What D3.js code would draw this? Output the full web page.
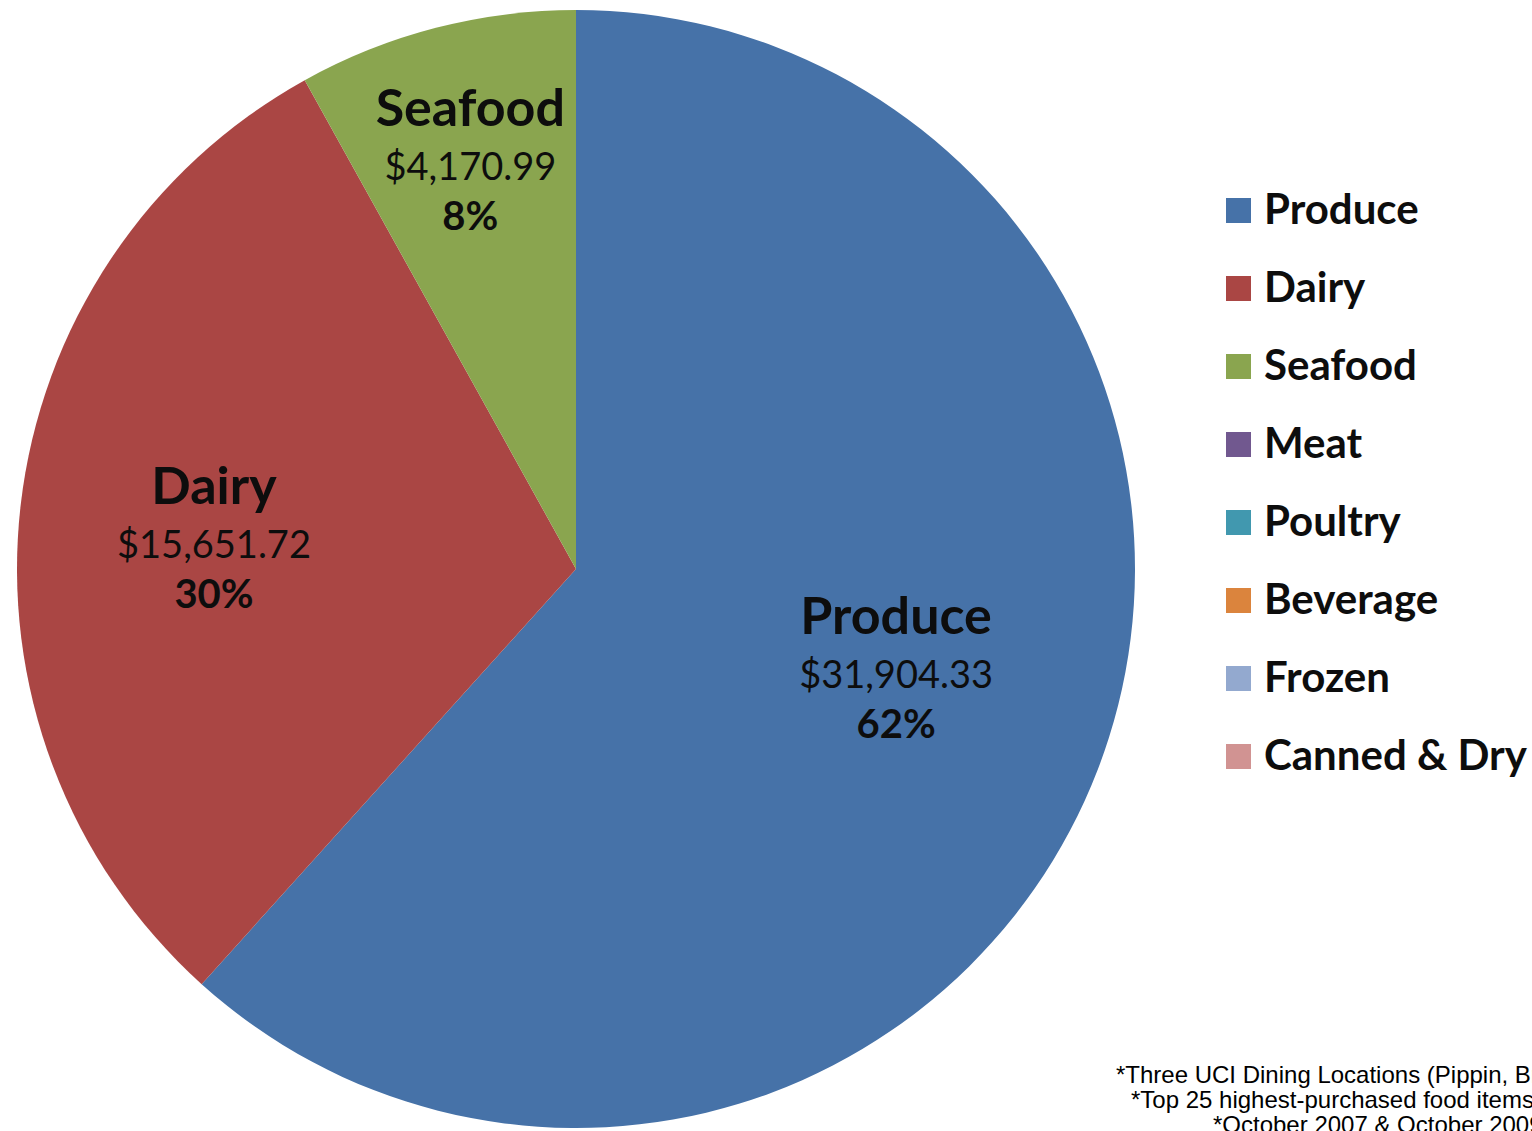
<!DOCTYPE html>
<html>
<head>
<meta charset="utf-8">
<script src="https://cdn.jsdelivr.net/npm/d3@7"></script>
<style>
  body { margin: 0; background: #fff; }
  svg { display: block; }
</style>
</head>
<body>
<div id="chart"></div>
<script>
// chart data
var categories = ["Produce", "Dairy", "Seafood", "Meat", "Poultry", "Beverage", "Frozen", "Canned & Dry"];
var spending = [31904.33, 15651.72, 4170.99, 0, 0, 0, 0, 0];
var colors = ["#4672a8", "#aa4644", "#8aa54f", "#71588f", "#4198af", "#db843d", "#93a9cf", "#d19392"];
var footnotes = [
  "*Three UCI Dining Locations (Pippin, Br",
  "*Top 25 highest-purchased food items",
  "*October 2007 & October 2009"
];

var svgWidth = 1532;
var svgHeight = 1131;
var radius = 559;
var cx = 576, cy = 569;

// label placement: distance from centre (fraction of radius) + small nudge, like excel "best fit"
var labelRadius = [0.6, 0.65, 0.74];
var labelNudge = [[7, -22], [-1, 9], [-2, -10]];

var svg = d3.select("#chart")
  .append("svg")
  .attr("width", svgWidth)
  .attr("height", svgHeight);

var rows = categories.map(function(c, i) {
  return { name: c, value: spending[i], color: colors[i] };
});
var total = d3.sum(spending);

var pie = d3.pie()
  .sort(null)
  .value(d => d.value);

var arc = d3.arc()
  .innerRadius(0)
  .outerRadius(radius);

var pieGroup = svg.append("g")
  .attr("transform", `translate(${cx}, ${cy})`);

var arcs = pie(rows).filter(d => d.data.value > 0);

pieGroup.selectAll("path")
  .data(arcs)
  .enter()
  .append("path")
  .attr("d", arc)
  .attr("fill", d => d.data.color);

// data labels
var fmtMoney = d3.format("$,.2f");
var fmtPct = d3.format(".0%");

var labels = pieGroup.selectAll("g.label")
  .data(arcs)
  .enter()
  .append("g")
  .attr("class", "label")
  .attr("transform", function(d, i) {
    var r = radius * labelRadius[i];
    var c = d3.arc().innerRadius(r).outerRadius(r).centroid(d);
    return `translate(${c[0] + labelNudge[i][0]}, ${c[1] + labelNudge[i][1]})`;
  })
  .style("font-family", "Lato, 'Open Sans', sans-serif")
  .attr("text-anchor", "middle")
  .attr("fill", "#0d0d0d");

labels.append("text")
  .attr("y", -33)
  .style("font-size", "52px")
  .style("font-weight", "bold")
  .text(d => d.data.name);

labels.append("text")
  .attr("y", 21)
  .style("font-size", "38px")
  .text(d => fmtMoney(d.data.value));

labels.append("text")
  .attr("y", 71)
  .style("font-size", "40px")
  .style("font-weight", "bold")
  .text(d => fmtPct(d.data.value / total));

// legend
var legend = svg.append("g")
  .attr("transform", "translate(1226, 210)")
  .style("font-family", "Lato, 'Open Sans', sans-serif");

var legendY = d3.scalePoint()
  .domain(categories)
  .range([0, 546]);

var items = legend.selectAll("g")
  .data(rows)
  .enter()
  .append("g")
  .attr("transform", d => `translate(0, ${legendY(d.name)})`);

items.append("rect")
  .attr("x", 0)
  .attr("y", -12)
  .attr("width", 25)
  .attr("height", 25)
  .attr("fill", d => d.color);

items.append("text")
  .attr("x", 38)
  .attr("y", 14)
  .style("font-size", "42px")
  .style("font-weight", "bold")
  .attr("fill", "#0d0d0d")
  .text(d => d.name);

// footnotes
var noteX = [1116, 1131, 1213];
svg.append("g")
  .selectAll("text")
  .data(footnotes)
  .enter()
  .append("text")
  .attr("x", (d, i) => noteX[i])
  .attr("y", (d, i) => 1083 + i * 25)
  .style("font-family", "'Liberation Sans', Arial, sans-serif")
  .style("font-size", "24px")
  .attr("fill", "#000")
  .text(d => d);
</script>
</body>
</html>
